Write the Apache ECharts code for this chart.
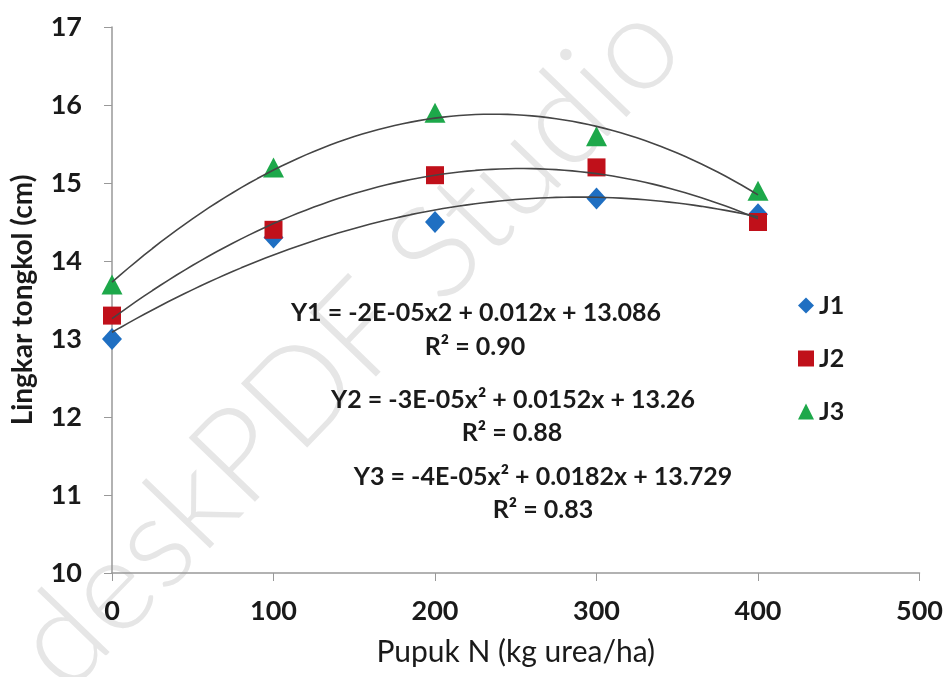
<!DOCTYPE html>
<html>
<head>
<meta charset="utf-8">
<script src="https://cdn.jsdelivr.net/npm/echarts@6/dist/echarts.min.js"></script>
<style>html,body{margin:0;padding:0;background:#fff}#c{width:946px;height:677px}</style>
</head>
<body>
<div id="c"></div>
<script>
// Data
const doses = [0, 100, 200, 300, 400];
const J1 = [13.0, 14.3, 14.5, 14.8, 14.6];
const J2 = [13.3, 14.4, 15.1, 15.2, 14.5];
const J3 = [13.7, 15.2, 15.9, 15.6, 14.9];
const seriesNames = ['J1', 'J2', 'J3'];
const equations = [
  'Y1 = -2E-05x2 + 0.012x + 13.086', 'R\u00b2 = 0.90',
  'Y2 = -3E-05x\u00b2 + 0.0152x + 13.26', 'R\u00b2 = 0.88',
  'Y3 = -4E-05x\u00b2 + 0.0182x + 13.729', 'R\u00b2 = 0.83'
];
const xTicks = [0, 100, 200, 300, 400, 500];

// least-squares quadratic fit (trendline) computed from the data
function quadFit(xs, ys) {
  let n = xs.length, s = [0,0,0,0,0], t = [0,0,0];
  for (let i = 0; i < n; i++) {
    let p = 1;
    for (let k = 0; k < 5; k++) { s[k] += p; p *= xs[i]; }
    p = 1;
    for (let k = 0; k < 3; k++) { t[k] += p * ys[i]; p *= xs[i]; }
  }
  let A = [[s[0], s[1], s[2], t[0]], [s[1], s[2], s[3], t[1]], [s[2], s[3], s[4], t[2]]];
  for (let i = 0; i < 3; i++) {
    for (let j = i + 1; j < 3; j++) {
      const f = A[j][i] / A[i][i];
      for (let k = i; k < 4; k++) A[j][k] -= f * A[i][k];
    }
  }
  const c = [0,0,0];
  for (let i = 2; i >= 0; i--) {
    let v = A[i][3];
    for (let k = i + 1; k < 3; k++) v -= A[i][k] * c[k];
    c[i] = v / A[i][i];
  }
  return c;
}
function trend(ys) {
  const c = quadFit(doses, ys);
  const pts = [];
  const x0 = doses[0], x1 = doses[doses.length - 1];
  for (let k = 0; k <= 80; k++) {
    const x = x0 + (x1 - x0) * k / 80;
    pts.push([x, c[0] + c[1] * x + c[2] * x * x]);
  }
  return pts;
}

const colors = ['#1f6fc2', '#c0101a', '#1da84a'];
const symbols = ['diamond', 'rect', 'triangle'];
const sizes = [[20, 22], [18, 18], [21, 20]];
const all = [J1, J2, J3];
const FONT = 'Lato';

const series = [];
all.forEach((ys, i) => {
  series.push({
    name: seriesNames[i] + ' trend', type: 'line', data: trend(ys),
    showSymbol: false, smooth: false, silent: true, z: 3,
    lineStyle: { color: '#454545', width: 1.6 }
  });
});
all.forEach((ys, i) => {
  series.push({
    name: seriesNames[i], type: 'scatter',
    data: doses.map((x, j) => [x, ys[j]]),
    symbol: symbols[i], symbolSize: sizes[i], z: 2,
    itemStyle: { color: colors[i], opacity: 1 }
  });
});

const eqPos = [[476, 313], [475, 347], [513, 400], [512, 433], [543, 477], [543, 510]];
const graphics = [];
graphics.push({
  type: 'text', silent: true, z: -10,
  x: 348, y: 345, rotation: 46 * Math.PI / 180,
  style: { text: 'deskPDF Studio', fill: '#e6e6e6',
    font: '300 130px ' + FONT, align: 'center', verticalAlign: 'middle' }
});
equations.forEach((t, i) => {
  graphics.push({
    type: 'text', silent: true, z: 10,
    x: eqPos[i][0], y: eqPos[i][1],
    style: { text: t, fill: '#1a1a1a', font: 'bold 25px ' + FONT, align: 'center', verticalAlign: 'middle' }
  });
});

const chart = echarts.init(document.getElementById('c'));
chart.setOption({
  animation: false,
  backgroundColor: '#fff',
  grid: { left: 112, right: 25, top: 27, bottom: 104, containLabel: false },
  legend: {
    data: seriesNames, orient: 'vertical', left: 793, top: 288, itemGap: 28,
    itemWidth: 16, itemHeight: 16,
    textStyle: { fontFamily: FONT, fontWeight: 'bold', fontSize: 25, color: '#1a1a1a' }
  },
  xAxis: {
    type: 'value', min: 0, max: 500, interval: 100,
    name: 'Pupuk N (kg urea/ha)', nameLocation: 'middle', nameGap: 64,
    nameTextStyle: { fontFamily: FONT, fontSize: 30, color: '#1a1a1a' },
    axisLine: { lineStyle: { color: '#999', width: 1.5 } },
    axisTick: { show: true, length: 8, lineStyle: { color: '#999' } },
    splitLine: { show: false },
    axisLabel: { margin: 25, fontFamily: FONT, fontWeight: 'bold', fontSize: 27, color: '#1a1a1a',
      formatter: v => xTicks.includes(v) ? String(v) : '' }
  },
  yAxis: {
    type: 'value', min: 10, max: 17, interval: 1,
    name: 'Lingkar tongkol (cm)', nameLocation: 'middle', nameGap: 75,
    nameTextStyle: { fontFamily: FONT, fontWeight: 'bold', fontSize: 28, color: '#1a1a1a' },
    axisLine: { show: true, lineStyle: { color: '#999', width: 1.5 } },
    axisTick: { show: true, length: 8, lineStyle: { color: '#999' } },
    splitLine: { show: false },
    axisLabel: { margin: 30, fontFamily: FONT, fontWeight: 'bold', fontSize: 27, color: '#1a1a1a' }
  },
  series: series,
  graphic: graphics
});
</script>
</body>
</html>
